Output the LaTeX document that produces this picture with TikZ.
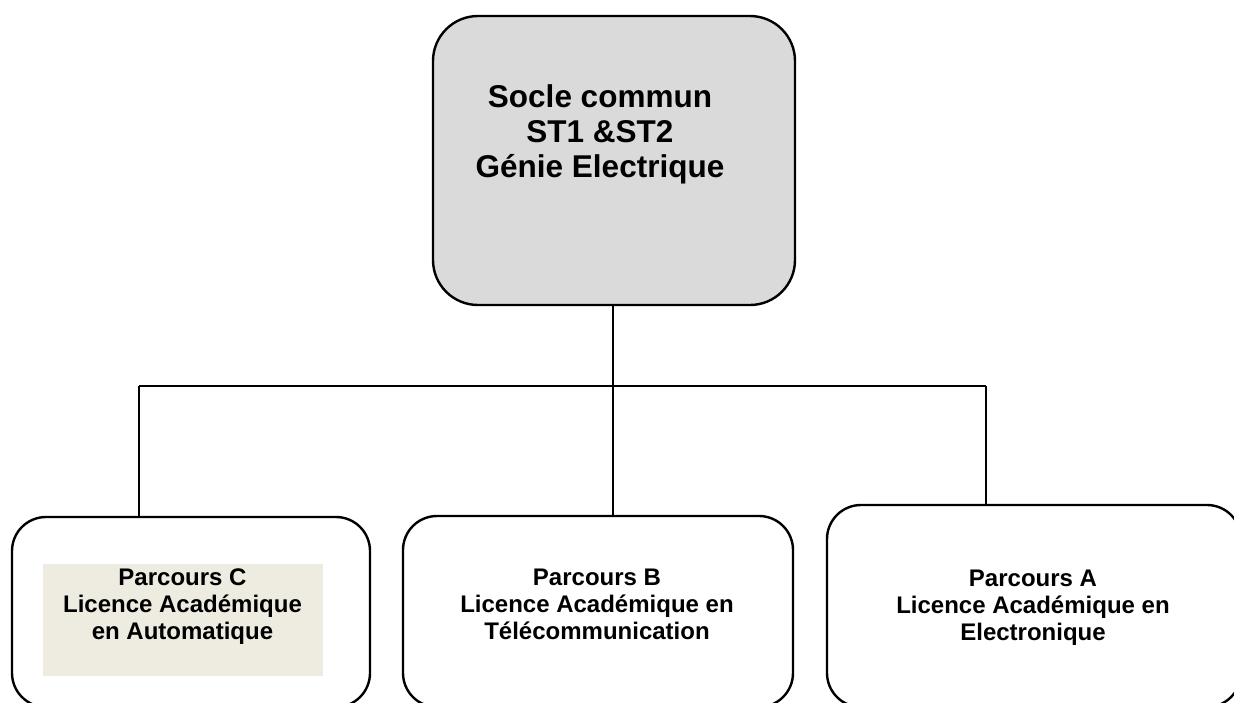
\documentclass[tikz,border=0pt]{standalone}
\usepackage{fontspec}
\setmainfont{Liberation Sans}
\definecolor{boxgray}{HTML}{DADADA}
\definecolor{beige}{HTML}{EEECE1}
\begin{document}
\begin{tikzpicture}[x=1pt,y=-1pt,
  box/.style={draw, line width=2.4pt, rounded corners=34pt, inner sep=0pt},
  txt/.style={align=center, inner sep=0pt, anchor=north,
    font=\bfseries\fontsize{24}{27}\selectfont},
  link/.style={line width=2pt}]
\useasboundingbox (0,0) rectangle (1234,702);

% common core
\node[box, fill=boxgray, rounded corners=45pt,
  minimum width=362pt, minimum height=289pt] (socle) at (614,160.5) {};
\node[txt, font=\bfseries\fontsize{31.5}{35}\selectfont] (socleT) at (600,84)
  {Socle commun\\ST1 \&ST2\\Génie Electrique};

% the three tracks
\node[box, minimum width=358pt, minimum height=190pt] (parcC) at (191,612) {};
\node[fill=beige, inner sep=0pt, minimum width=280pt, minimum height=112pt] (parcCbg) at (183,620) {};
\node[txt] (parcCT) at (182.5,568.5) {Parcours C\\Licence Académique\\en Automatique};

\node[box, minimum width=390pt, minimum height=191pt] (parcB) at (598,611.5) {};
\node[txt] (parcBT) at (597,568.5) {Parcours B\\Licence Académique en\\Télécommunication};

\node[box, minimum width=414pt, minimum height=202pt] (parcA) at (1034,606) {};
\node[txt] (parcAT) at (1033,569.5) {Parcours A\\Licence Académique en\\Electronique};

% connectors
\coordinate (hub) at (613,386);
\coordinate (jC) at (139,386);
\coordinate (jA) at (986,386);
\draw[link] (hub |- socle.south) -- (hub);
\draw[link] (jC) -- (jA);
\draw[link] (jC) -- (jC |- parcC.north);
\draw[link] (hub) -- (hub |- parcB.north);
\draw[link] (jA) -- (jA |- parcA.north);
\end{tikzpicture}
\end{document}
